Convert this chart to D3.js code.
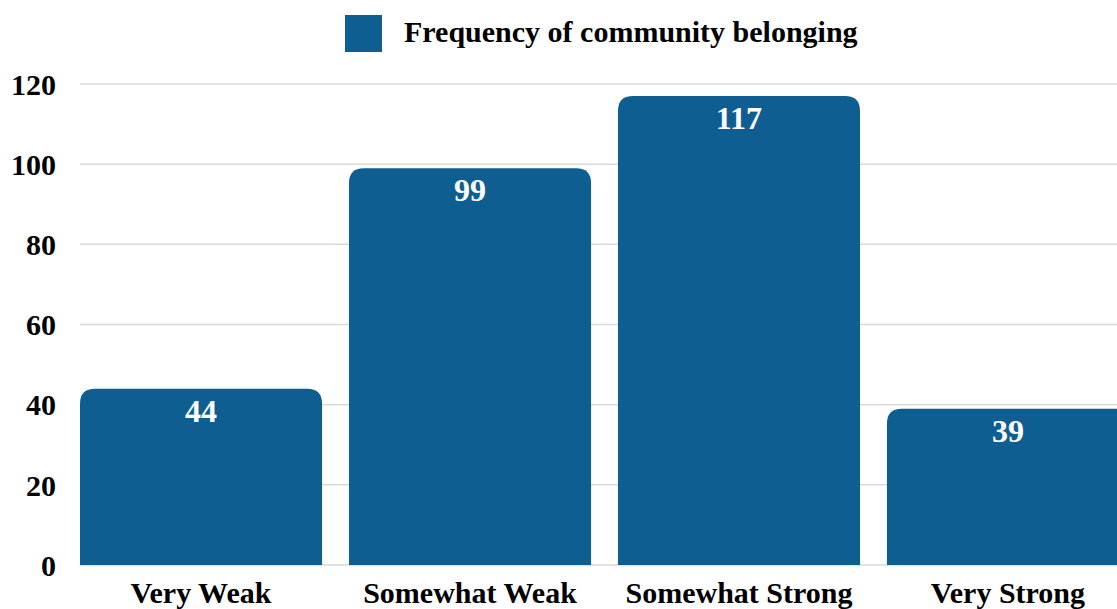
<!DOCTYPE html>
<html>
<head>
<meta charset="utf-8">
<script src="https://cdn.jsdelivr.net/npm/d3@7"></script>
<style>
  html, body { margin: 0; padding: 0; background: #fff; overflow: hidden; }
  svg { display: block; font-family: "Liberation Serif", "Times New Roman", serif; font-weight: bold; }
</style>
</head>
<body>
<svg id="chart" width="1117" height="609"></svg>
<script>
// Community belonging survey responses
const categories = ["Very Weak", "Somewhat Weak", "Somewhat Strong", "Very Strong"];
const frequencies = [44, 99, 117, 39];
const yTicks = [0, 20, 40, 60, 80, 100, 120];
const seriesName = "Frequency of community belonging";

const barColor = "#0f5e91";
const svg = d3.select("#chart");

const x = d3.scaleBand()
  .domain(categories)
  .range([80, 1129])
  .paddingInner(0.1)
  .paddingOuter(0);

const y = d3.scaleLinear()
  .domain([0, 120])
  .range([565, 84]);

// horizontal grid lines
svg.append("g")
  .selectAll("line")
  .data(yTicks)
  .join("line")
  .attr("x1", 80)
  .attr("x2", 1117)
  .attr("y1", d => y(d))
  .attr("y2", d => y(d))
  .attr("stroke", "#d9d9d9")
  .attr("stroke-width", 1.5);

// y axis labels
svg.append("g")
  .selectAll("text")
  .data(yTicks)
  .join("text")
  .attr("x", 56)
  .attr("y", d => y(d))
  .attr("dy", "0.36em")
  .attr("text-anchor", "end")
  .attr("font-size", 30)
  .attr("fill", "#000")
  .text(d => d);

// bars with rounded top corners
const r = 15;
function barPath(d, i) {
  const x0 = x(categories[i]);
  const w = x.bandwidth();
  const yTop = y(d);
  const yBot = y(0);
  const rr = Math.min(r, (yBot - yTop));
  return `M${x0},${yBot}V${yTop + rr}Q${x0},${yTop} ${x0 + rr},${yTop}` +
         `H${x0 + w - rr}Q${x0 + w},${yTop} ${x0 + w},${yTop + rr}V${yBot}Z`;
}

svg.append("g")
  .selectAll("path")
  .data(frequencies)
  .join("path")
  .attr("d", barPath)
  .attr("fill", barColor);

// value labels inside bars
svg.append("g")
  .selectAll("text")
  .data(frequencies)
  .join("text")
  .attr("x", (d, i) => x(categories[i]) + x.bandwidth() / 2)
  .attr("y", d => y(d) + 33)
  .attr("text-anchor", "middle")
  .attr("font-size", 32)
  .attr("fill", "#fff")
  .text(d => d);

// category labels
svg.append("g")
  .selectAll("text")
  .data(categories)
  .join("text")
  .attr("x", d => x(d) + x.bandwidth() / 2)
  .attr("y", 603)
  .attr("text-anchor", "middle")
  .attr("font-size", 30)
  .attr("fill", "#000")
  .text(d => d);

// legend
const legend = svg.append("g");
legend.append("rect")
  .attr("x", 345).attr("y", 15)
  .attr("width", 37).attr("height", 37)
  .attr("fill", barColor);
legend.append("text")
  .attr("x", 404).attr("y", 42)
  .attr("font-size", 30)
  .attr("fill", "#000")
  .text(seriesName);
</script>
</body>
</html>
